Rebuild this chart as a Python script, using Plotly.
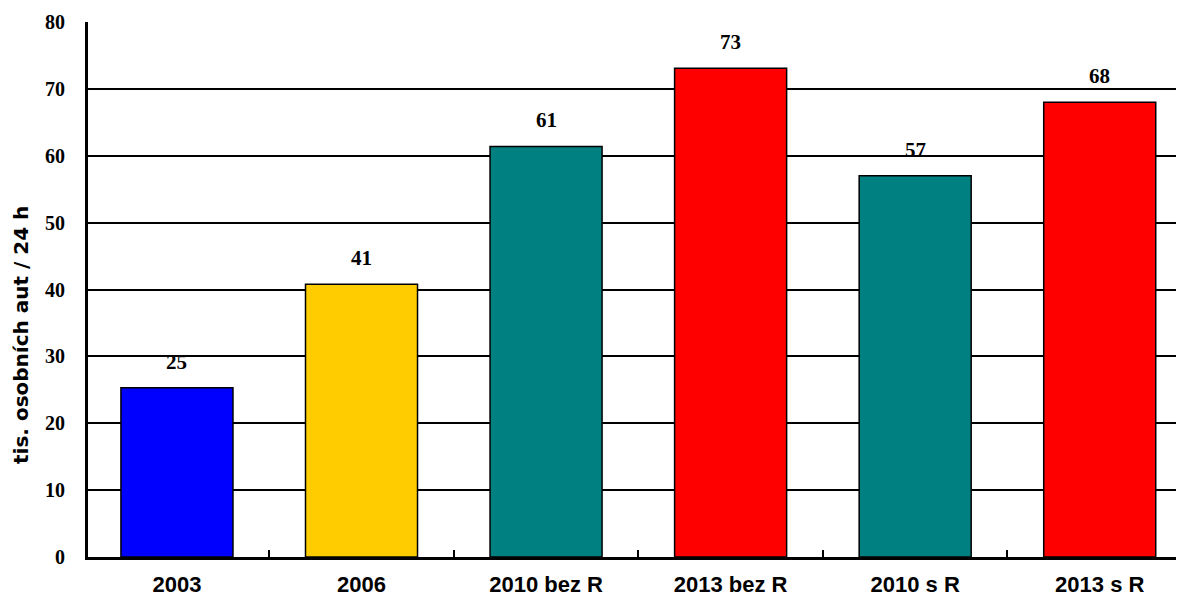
import plotly.graph_objects as go

categories = ["2003", "2006", "2010 bez R", "2013 bez R", "2010 s R", "2013 s R"]
values = [25.3, 40.8, 61.4, 73.1, 57.0, 68.0]
labels = ["25", "41", "61", "73", "57", "68"]
colors = ["#0000FF", "#FFCC00", "#008080", "#FF0000", "#008080", "#FF0000"]
y_ticks = [0, 10, 20, 30, 40, 50, 60, 70, 80]

fig = go.Figure()
fig.add_trace(go.Bar(
    x=categories, y=values,
    marker=dict(color=colors, line=dict(color="black", width=1.5)),
    width=0.607,
    hoverinfo="skip",
))

for i, (v, t) in enumerate(zip(values, labels)):
    fig.add_annotation(x=i, y=v, text=t, showarrow=False, yshift=26,
                       font=dict(family="Liberation Serif", size=21, color="black", weight="bold"),
                       xanchor="center", yanchor="middle")

fig.add_annotation(text="tis. osobních aut / 24 h", xref="paper", yref="paper",
                   x=0, y=0.415, xshift=-67, xanchor="center", yanchor="middle",
                   textangle=-90, showarrow=False,
                   font=dict(family="DejaVu Sans", size=20, color="black", weight="bold"))

fig.update_layout(
    width=1184, height=609,
    margin=dict(l=80, r=0, t=14, b=60),
    plot_bgcolor="white", paper_bgcolor="white",
    showlegend=False,
    font=dict(color="black"),
)
fig.update_xaxes(
    type="category",
    range=[-0.482, 5.5],
    showline=True, linecolor="black", linewidth=3,
    ticks="inside", tickson="boundaries", ticklen=7, tickwidth=2, tickcolor="black",
    tickfont=dict(family="Liberation Sans", size=22, color="black", weight="bold"),
    ticklabelstandoff=6,
    showgrid=False,
)
fig.update_yaxes(
    range=[0, 80],
    tickvals=y_ticks,
    showline=True, linecolor="black", linewidth=3,
    ticks="inside", ticklen=6, tickwidth=2, tickcolor="black",
    showgrid=True, gridcolor="black", gridwidth=1.5,
    tickfont=dict(family="Liberation Serif", size=20, color="black", weight="bold"),
    ticklabelstandoff=16,
    zeroline=False,
)

fig.write_html("out.html")
